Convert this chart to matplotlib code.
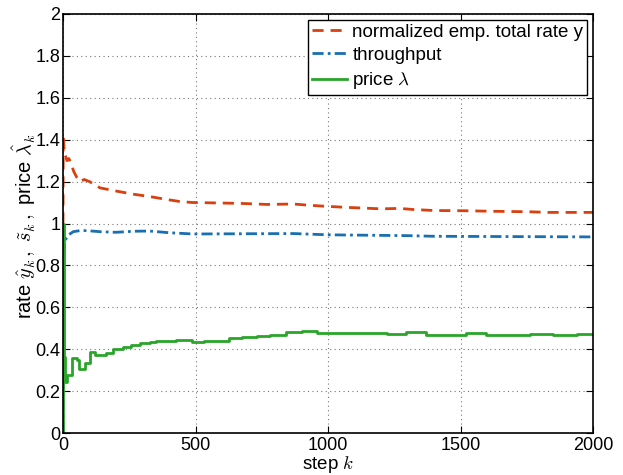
import matplotlib
matplotlib.use("Agg")
import matplotlib.pyplot as plt
from matplotlib.ticker import FormatStrFormatter

# ---------------- DATA ----------------
rate_k = [0, 1, 3, 6, 10, 15, 22, 30, 40, 52, 64, 80, 100, 140, 200, 265, 330,
          390, 440, 490, 500, 670, 770, 870, 920, 980, 1070, 1200, 1270, 1320,
          1400, 1510, 1640, 1760, 1830, 2000]
rate = [1.0, 1.42, 1.38, 1.33, 1.32, 1.30, 1.31, 1.29, 1.25, 1.22, 1.20, 1.21,
        1.20, 1.17, 1.155, 1.14, 1.128, 1.115, 1.105, 1.10, 1.10, 1.096, 1.091,
        1.093, 1.088, 1.083, 1.077, 1.07, 1.072, 1.067, 1.062, 1.061, 1.058,
        1.056, 1.053, 1.053]

thr_k = [0, 1, 2, 4, 7, 12, 20, 39, 64, 89, 139, 200, 265, 327, 400, 490, 870,
         1000, 1300, 1400, 2000]
thr = [0, 0.6, 0.82, 0.88, 0.906, 0.93, 0.945, 0.961, 0.966, 0.966, 0.961,
       0.958, 0.963, 0.964, 0.956, 0.95, 0.952, 0.946, 0.942, 0.939, 0.936]

price_k = [0, 1, 2, 7, 14, 33, 51, 61, 83, 101, 120, 164, 189, 227, 258, 289,
           327, 352, 427, 487, 531, 625, 675, 731, 781, 842, 901, 960, 1096,
           1221, 1296, 1369, 1522, 1598, 1762, 1850, 1938, 2000]
price = [0, 1.0, 0.364, 0.245, 0.277, 0.358, 0.35, 0.305, 0.334, 0.388, 0.37,
         0.38, 0.40, 0.41, 0.42, 0.43, 0.435, 0.44, 0.446, 0.432, 0.438, 0.452,
         0.458, 0.465, 0.469, 0.48, 0.487, 0.477, 0.476, 0.472, 0.483, 0.469,
         0.476, 0.469, 0.474, 0.469, 0.472, 0.472]

labels = ["normalized emp. total rate y", "throughput", r"price $\lambda$"]
xticks = [0, 500, 1000, 1500, 2000]
yticks = [0, 0.2, 0.4, 0.6, 0.8, 1, 1.2, 1.4, 1.6, 1.8, 2]

# ---------------- PLOT ----------------
plt.rcParams["font.family"] = ["Liberation Sans", "DejaVu Sans"]
plt.rcParams["mathtext.fontset"] = "cm"

fig = plt.figure(figsize=(6.23, 4.75), dpi=100)
ax = fig.add_axes([63 / 623, 42 / 475, 530 / 623, 419 / 475])

ax.plot(rate_k, rate, color="#d9400f", lw=2, dashes=(4, 2.5), label=labels[0])
ax.plot(thr_k, thr, color="#1a6fb0", lw=2, dashes=(4, 1.5, 1, 1.5), label=labels[1])
ax.plot(price_k, price, color="#2aa52a", lw=2, drawstyle="steps-post", label=labels[2])

ax.set_xlim(0, 2000)
ax.set_ylim(0, 2)
ax.set_xticks(xticks)
ax.set_yticks(yticks)
ax.yaxis.set_major_formatter(FormatStrFormatter("%g"))
ax.tick_params(direction="in", top=True, right=True, labelsize=13, length=5)
ax.tick_params(axis="y", pad=2)
ax.tick_params(axis="x", pad=3)
ax.grid(True, linestyle=(0, (1, 3)), color="#777777", lw=0.8)
for s in ax.spines.values():
    s.set_linewidth(1.2)

ax.set_xlabel("step $k$", fontsize=13.5)
ax.xaxis.set_label_coords(0.5, -0.049)
ax.set_ylabel(r"rate $\hat{y}_k\,,\ \tilde{s}_k\,,$ price $\hat{\lambda}_k$", fontsize=14.5,
              va="center")
ax.yaxis.set_label_coords(-0.074, 0.494)

leg = ax.legend(loc="upper right", bbox_to_anchor=(0.989, 0.986), borderaxespad=0,
                fontsize=13.5, fancybox=False, framealpha=1, edgecolor="black",
                handlelength=1.9, handletextpad=0.27, labelspacing=0.33,
                borderpad=0.2)
leg.get_frame().set_linewidth(1)

fig.savefig("out.png", dpi=100)
